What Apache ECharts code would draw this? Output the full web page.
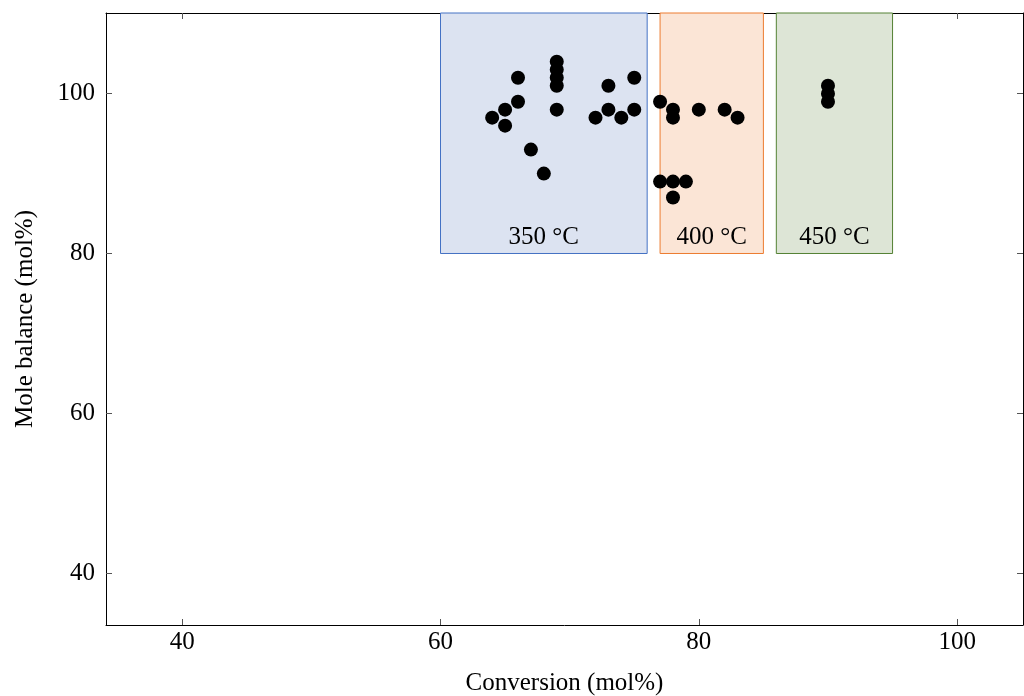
<!DOCTYPE html>
<html>
<head>
<meta charset="utf-8">
<script src="https://cdn.jsdelivr.net/npm/echarts@6/dist/echarts.min.js"></script>
<style>
  html, body { margin: 0; padding: 0; background: #fff; }
  #chart { width: 1024px; height: 696px; }
</style>
</head>
<body>
<div id="chart"></div>
<script>
// measured points: conversion (mol%) vs mole balance (mol%)
const conversion = [64, 65, 65, 66, 66, 67, 68, 69, 69, 69, 69, 69, 72, 73, 73, 74, 75, 75,
                    77, 78, 78, 80, 82, 83, 77, 78, 79, 78,
                    90, 90, 90];
const balance = [97, 98, 96, 99, 102, 93, 90, 104, 103, 102, 101, 98, 97, 101, 98, 97, 102, 98,
                 99, 98, 97, 98, 98, 97, 89, 89, 89, 87,
                 101, 100, 99];

// temperature zones
const zoneNames = ['350 °C', '400 °C', '450 °C'];
const zoneFrom = [60, 77, 86];
const zoneTo = [76, 85, 95];
const zoneBottom = 80;

const xTicks = [40, 60, 80, 100];
const yTicks = [40, 60, 80, 100];

const xMin = 34.1, xMax = 105.1;
const yMin = 33.5, yMax = 110.1;

const zoneFill = ['#dce3f1', '#fbe5d6', '#dde5d6'];
const zoneLine = ['#4472c4', '#ed7d31', '#548235'];

const chart = echarts.init(document.getElementById('chart'));
const font = 'Liberation Serif';

function axisCommon(ticks) {
    return {
        type: 'value',
        splitLine: { show: false },
        axisLine: { show: true, onZero: false, lineStyle: { color: '#000', width: 1 } },
        axisTick: { show: true, inside: true, length: 6, customValues: ticks, lineStyle: { color: '#555' } },
        axisLabel: { customValues: ticks, color: '#000', fontFamily: font, fontSize: 25 }
    };
}

const xBottom = Object.assign(axisCommon(xTicks), {
    min: xMin, max: xMax,
    name: 'Conversion (mol%)', nameLocation: 'middle', nameGap: 46,
    nameTextStyle: { color: '#000', fontFamily: font, fontSize: 25 }
});
xBottom.axisLabel.margin = 5;
const xTop = Object.assign(axisCommon(xTicks), { min: xMin, max: xMax, position: 'top' });
xTop.axisLabel = { show: false };

const yLeft = Object.assign(axisCommon(yTicks), {
    min: yMin, max: yMax,
    name: 'Mole balance (mol%)', nameLocation: 'middle', nameGap: 68,
    nameTextStyle: { color: '#000', fontFamily: font, fontSize: 25 }
});
yLeft.axisLabel.margin = 11;
const yRight = Object.assign(axisCommon(yTicks), { min: yMin, max: yMax, position: 'right' });
yRight.axisLabel = { show: false };

const zones = zoneNames.map(function (name, i) {
    return [
        {
            name: name,
            coord: [zoneFrom[i], zoneBottom],
            itemStyle: { color: zoneFill[i], borderColor: zoneLine[i], borderWidth: 1 },
            label: {
                show: true, position: 'insideBottom', distance: 4,
                color: '#000', fontFamily: font, fontSize: 25
            }
        },
        { coord: [zoneTo[i], yMax] }
    ];
});

chart.setOption({
    animation: false,
    grid: { left: 106, right: 1, top: 13, bottom: 71, outerBoundsMode: 'none' },
    xAxis: [xBottom, xTop],
    yAxis: [yLeft, yRight],
    series: [
        {
            type: 'scatter',
            data: [],
            z: 1,
            silent: true,
            markArea: { silent: true, data: zones }
        },
        {
            type: 'scatter',
            z: 3,
            symbol: 'circle',
            symbolSize: 14,
            itemStyle: { color: '#000', opacity: 1 },
            data: conversion.map(function (x, i) { return [x, balance[i]]; })
        }
    ]
});
</script>
</body>
</html>
